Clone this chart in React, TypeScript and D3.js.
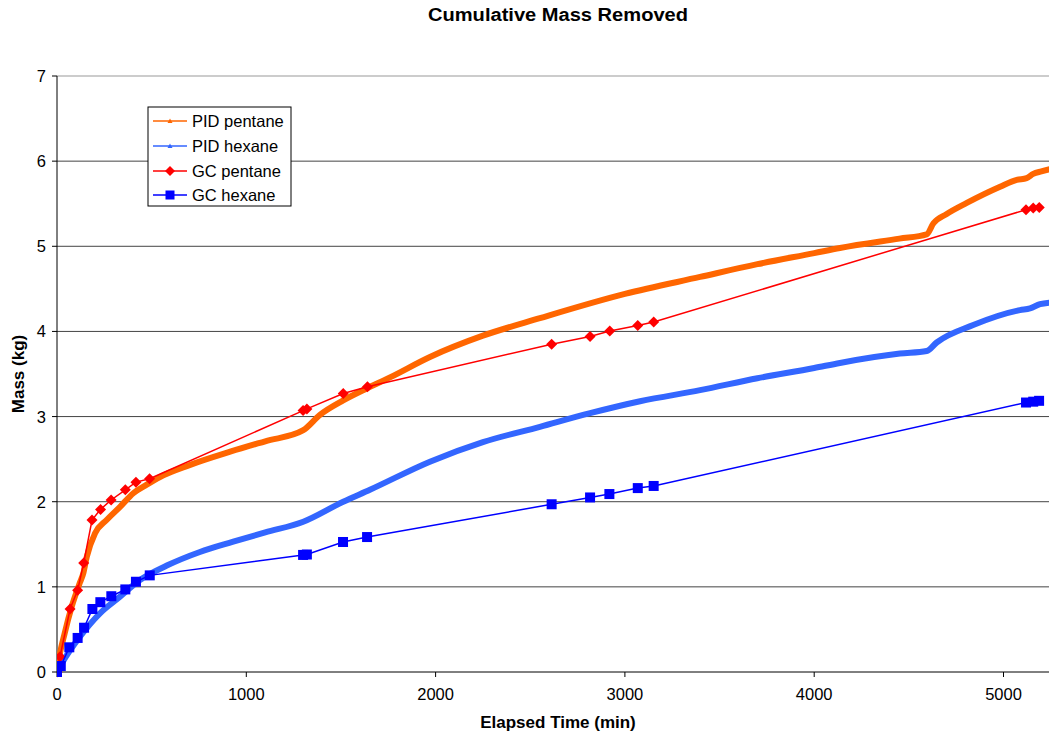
import React from "react";
import * as d3 from "d3";

const W = 1049;
const H = 736;

const xTicks = [0, 1000, 2000, 3000, 4000, 5000];
const yTicks = [0, 1, 2, 3, 4, 5, 6, 7];

const pidPentaneT = [0, 10, 40, 78, 121, 139, 157, 201, 262, 333, 403, 474, 544, 700, 919, 1100, 1301, 1389, 1512, 1636, 1759, 1970, 2250, 2551, 3000, 3397, 3700, 4000, 4136, 4450, 4594, 4630, 4700, 4806, 4982, 5070, 5122, 5157, 5200, 5250];
const pidPentaneM = [0, 0.15, 0.45, 0.77, 1.05, 1.16, 1.35, 1.63, 1.785, 1.94, 2.1, 2.2, 2.29, 2.43, 2.59, 2.71, 2.84, 3.02, 3.19, 3.33, 3.46, 3.7, 3.95, 4.155, 4.44, 4.64, 4.79, 4.92, 4.98, 5.09, 5.14, 5.27, 5.38, 5.51, 5.7, 5.78, 5.8, 5.85, 5.88, 5.91];

const pidHexaneT = [0, 25, 121, 227, 333, 438, 580, 755, 931, 1100, 1301, 1512, 1653, 1970, 2250, 2551, 2816, 3080, 3397, 3700, 4000, 4136, 4453, 4594, 4647, 4840, 5087, 5140, 5193, 5250];
const pidHexaneM = [0, 0.1, 0.415, 0.69, 0.885, 1.08, 1.25, 1.41, 1.53, 1.64, 1.765, 2.0, 2.14, 2.47, 2.7, 2.88, 3.04, 3.18, 3.31, 3.45, 3.57, 3.63, 3.74, 3.77, 3.87, 4.075, 4.25, 4.27, 4.32, 4.34];

const gcT = [0, 16, 69, 109, 141, 185, 230, 286, 361, 417, 489, 1300, 1320, 1512, 1640, 2613, 2816, 2920, 3068, 3152, 5119, 5157, 5189];
const gcPentane = [0, 0.18, 0.74, 0.96, 1.28, 1.785, 1.91, 2.02, 2.14, 2.23, 2.27, 3.07, 3.09, 3.27, 3.35, 3.85, 3.94, 4.005, 4.07, 4.11, 5.43, 5.45, 5.455];
const gcHexaneT = [0, 20, 65, 109, 143, 187, 229, 287, 361, 417, 490, 1300, 1320, 1511, 1638, 2613, 2816, 2918, 3068, 3152, 5119, 5157, 5188];
const gcHexane = [0, 0.07, 0.29, 0.4, 0.52, 0.74, 0.82, 0.89, 0.97, 1.06, 1.135, 1.375, 1.38, 1.527, 1.585, 1.97, 2.05, 2.09, 2.16, 2.185, 3.165, 3.175, 3.185];

const seriesNames = ["PID pentane", "PID hexane", "GC pentane", "GC hexane"];
const seriesColors = ["#FF6600", "#3366FF", "#FF0000", "#0000FF"];

const FONT = "'Liberation Sans', Arial, sans-serif";

export default function App() {
  const left = 57;
  const top = 76;
  const bottom = 672;
  const x = d3.scaleLinear().domain([0, 5250]).range([left, left + 5250 * 0.1893]);
  const y = d3.scaleLinear().domain([0, 7]).range([bottom, top]);
  const line = d3
    .line<[number, number]>()
    .x((d) => x(d[0]))
    .y((d) => y(d[1]))
    .curve(d3.curveMonotoneX);
  const lineStraight = d3
    .line<[number, number]>()
    .x((d) => x(d[0]))
    .y((d) => y(d[1]));

  const pp: [number, number][] = pidPentaneT.map((t, i) => [t, pidPentaneM[i]]);
  const ph: [number, number][] = pidHexaneT.map((t, i) => [t, pidHexaneM[i]]);
  const gp: [number, number][] = gcT.map((t, i) => [t, gcPentane[i]]);
  const gh: [number, number][] = gcHexaneT.map((t, i) => [t, gcHexane[i]]);

  const diamond = (cx: number, cy: number, r: number) =>
    `M${cx},${cy - r}L${cx + r},${cy}L${cx},${cy + r}L${cx - r},${cy}Z`;

  const legendX = 148;
  const legendY = 107;
  const legendRows = [121, 146, 171, 195];

  return (
    <svg
      width={W}
      height={H}
      style={{ position: "absolute", left: 0, top: 0, display: "block", background: "#fff" }}
      fontFamily={FONT}
    >
      <defs>
        <clipPath id="plotClip">
          <rect x={left} y={top - 10} width={W - left} height={bottom - top + 20} />
        </clipPath>
      </defs>
      <text x={558} y={21} textAnchor="middle" fontSize={18} fontWeight="bold" textLength={260} lengthAdjust="spacingAndGlyphs">
        Cumulative Mass Removed
      </text>

      {yTicks.slice(1).map((v) => (
        <line
          key={"g" + v}
          x1={left}
          x2={W}
          y1={y(v)}
          y2={y(v)}
          stroke={v === 7 ? "#999" : "#444"}
          strokeWidth={1}
        />
      ))}

      <line x1={left} x2={left} y1={top} y2={bottom} stroke="#000" strokeWidth={1} />
      <line x1={left} x2={W} y1={bottom} y2={bottom} stroke="#000" strokeWidth={1} />
      {yTicks.map((v) => (
        <g key={"yt" + v}>
          <line x1={left - 5} x2={left} y1={y(v)} y2={y(v)} stroke="#000" />
          <text x={left - 11} y={y(v) + 6} textAnchor="end" fontSize={16.5}>
            {v}
          </text>
        </g>
      ))}
      {xTicks.map((v) => (
        <g key={"xt" + v}>
          <line x1={x(v)} x2={x(v)} y1={bottom} y2={bottom + 5} stroke="#000" />
          <text x={x(v)} y={bottom + 28} textAnchor="middle" fontSize={16.5}>
            {v}
          </text>
        </g>
      ))}
      <text x={558} y={728} textAnchor="middle" fontSize={17} fontWeight="bold">
        Elapsed Time (min)
      </text>
      <text
        transform={`translate(24,${374}) rotate(-90)`}
        textAnchor="middle"
        fontSize={17}
        fontWeight="bold"
      >
        Mass (kg)
      </text>

      <g clipPath="url(#plotClip)">
        <path d={line(pp) || ""} fill="none" stroke={seriesColors[0]} strokeWidth={6} strokeLinejoin="round" />
        <path d={line(ph) || ""} fill="none" stroke={seriesColors[1]} strokeWidth={6} strokeLinejoin="round" />
        <path d={lineStraight(gp) || ""} fill="none" stroke={seriesColors[2]} strokeWidth={1.5} />
        {gp.map((d, i) => (
          <path key={"gpm" + i} d={diamond(x(d[0]), y(d[1]), 5.5)} fill={seriesColors[2]} />
        ))}
        <path d={lineStraight(gh) || ""} fill="none" stroke={seriesColors[3]} strokeWidth={1.5} />
        {gh.map((d, i) => (
          <rect
            key={"ghm" + i}
            x={x(d[0]) - 5}
            y={y(d[1]) - 5}
            width={10}
            height={10}
            fill={seriesColors[3]}
          />
        ))}
      </g>

      <rect x={legendX} y={legendY} width={143} height={99} fill="#fff" stroke="#000" strokeWidth={1} />
      {seriesNames.map((name, i) => {
        const cy = legendRows[i];
        const c = seriesColors[i];
        return (
          <g key={"lg" + i}>
            <line x1={153} x2={187} y1={cy} y2={cy} stroke={c} strokeWidth={1.5} />
            {i < 2 && <path d={`M170,${cy - 2.5}L172.5,${cy + 2}L167.5,${cy + 2}Z`} fill={c} />}
            {i === 2 && <path d={diamond(170, cy, 5)} fill={c} />}
            {i === 3 && <rect x={165.5} y={cy - 4.5} width={9} height={9} fill={c} />}
            <text x={192} y={cy + 6} fontSize={16.5}>
              {name}
            </text>
          </g>
        );
      })}
    </svg>
  );
}
